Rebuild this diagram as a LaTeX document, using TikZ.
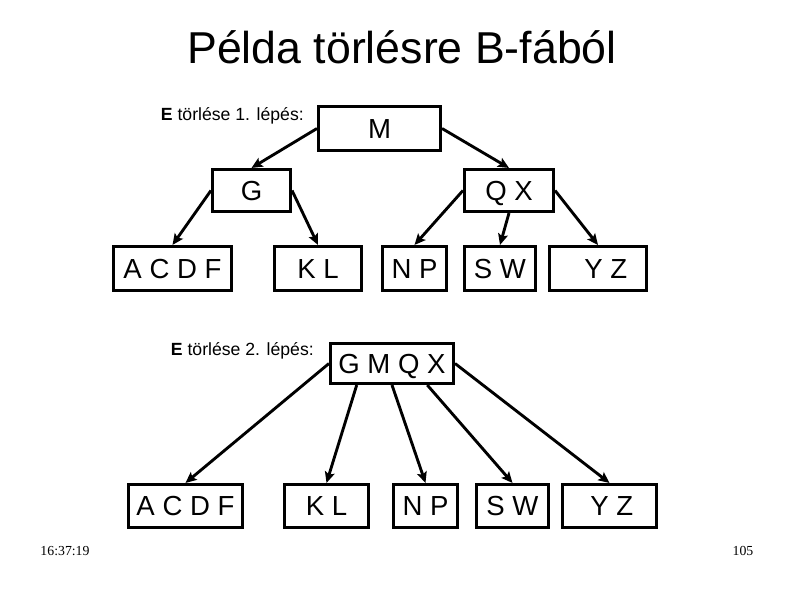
\documentclass[tikz,border=0pt]{standalone}
\usepackage{fontspec}
\setmainfont{Liberation Sans}
\newfontfamily\footfont{Liberation Serif}
\usetikzlibrary{arrows.meta,calc}
\begin{document}
\begin{tikzpicture}[x=0.9068pt,y=-0.9068pt,
  box/.style={draw,line width=2.8pt,inner sep=0pt,text height=17.9pt,text depth=0pt,font=\fontsize{25}{30}\selectfont},
  arr/.style={line width=2.6pt,-{Stealth[length=10pt,width=9pt,inset=2pt]}},
  lbl/.style={inner sep=0pt,font=\fontsize{16}{19}\selectfont},
  foot/.style={inner sep=0pt,font=\footfont\fontsize{12.5}{14}\selectfont}]
\useasboundingbox (0,0) rectangle (794,595);
\node[inner sep=0pt,anchor=base,font=\fontsize{40.5}{48}\selectfont] (title) at (402,63) {Példa törlésre B-fából};
% first tree
\node[lbl,anchor=east] (lab1) at (304,116) {\textbf{E} törlése 1. lépés:};
\node[box,minimum width=122*0.9068pt,minimum height=44*0.9068pt] (M) at (379.5,128.5) {M};
\node[box,minimum width=78*0.9068pt,minimum height=42*0.9068pt] (G) at (251.5,190.5) {G};
\node[box,minimum width=89*0.9068pt,minimum height=42*0.9068pt] (QX) at (509,190.5) {Q X};
\node[box,minimum width=118*0.9068pt,minimum height=44*0.9068pt] (ACDF1) at (172.5,268.5) {A C D F};
\node[box,minimum width=87*0.9068pt,minimum height=44*0.9068pt] (KL1) at (318,268.5) {K L};
\node[box,minimum width=64*0.9068pt,minimum height=44*0.9068pt] (NP1) at (414.5,268.5) {N P};
\node[box,minimum width=71*0.9068pt,minimum height=44*0.9068pt] (SW1) at (500,268.5) {S W};
\node[box,minimum width=97*0.9068pt,minimum height=44*0.9068pt] (YZ1) at (598,268.5) {\hspace*{14pt}Y Z};
\draw[arr] (M.west) -- (G.north);
\draw[arr] (M.east) -- (QX.north);
\draw[arr] (G.west) -- (ACDF1.north);
\draw[arr] (G.east) -- (KL1.north);
\draw[arr] (QX.west) -- (NP1.north);
\draw[arr] (QX.south) -- (SW1.north);
\draw[arr] (QX.east) -- (YZ1.north);
% second tree
\node[lbl,anchor=east] (lab2) at (314,351) {\textbf{E} törlése 2. lépés:};
\node[box,minimum width=123*0.9068pt,minimum height=40*0.9068pt] (GMQX) at (392,363.5) {G M Q X};
\node[box,minimum width=114*0.9068pt,minimum height=43*0.9068pt] (ACDF2) at (185.5,506) {A C D F};
\node[box,minimum width=84*0.9068pt,minimum height=43*0.9068pt] (KL2) at (326.5,506) {K L};
\node[box,minimum width=64*0.9068pt,minimum height=43*0.9068pt] (NP2) at (425.5,506) {N P};
\node[box,minimum width=72*0.9068pt,minimum height=43*0.9068pt] (SW2) at (512.5,506) {S W};
\node[box,minimum width=94*0.9068pt,minimum height=43*0.9068pt] (YZ2) at (609.5,506) {\hspace*{4pt}Y Z};
\draw[arr] (GMQX.west) -- (ACDF2.north);
\draw[arr] ([xshift=-32pt]GMQX.south) -- (KL2.north);
\draw[arr] (GMQX.south) -- (NP2.north);
\draw[arr] ([xshift=32pt]GMQX.south) -- (SW2.north);
\draw[arr] (GMQX.east) -- (YZ2.north);
% footer
\node[foot,anchor=base] (time) at (65,555) {16:37:19};
\node[foot,anchor=base] (page) at (743,555) {105};
\end{tikzpicture}
\end{document}
